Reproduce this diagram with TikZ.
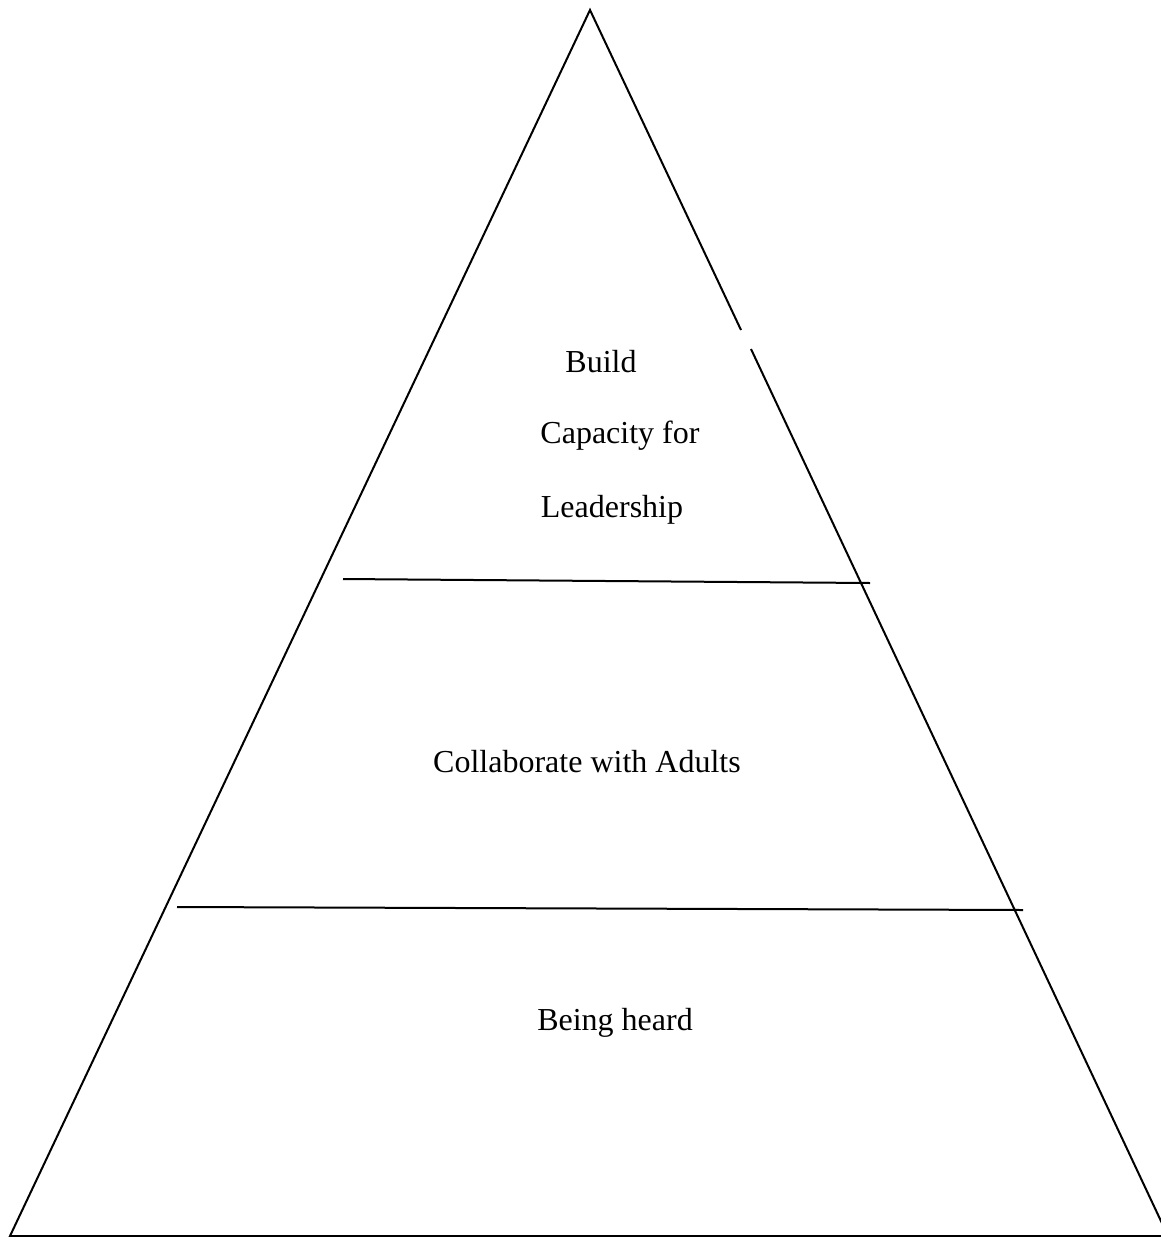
\documentclass[tikz,border=0pt]{standalone}
\usepackage{fontspec}
\setmainfont{Liberation Serif}
\usetikzlibrary{positioning}

\begin{document}
\begin{tikzpicture}[x = 0.5pt, y = -0.5pt, line width = 1pt,
  level/.style = {anchor = base, inner sep = 0pt, font = \fontsize{16}{19}\selectfont}]
\useasboundingbox (0, 0) rectangle (1161, 1237);
\coordinate (top) at (590, 10);
\coordinate (gapa) at (741, 330);
\coordinate (gapb) at (751, 349);
\coordinate (bl) at (10, 1236);
\coordinate (br) at (1168, 1236);
\draw (gapa) -- (top) -- (bl) -- (br) -- (gapb);
\coordinate (upl) at (343, 579);
\coordinate (upr) at (870, 583);
\coordinate (lowl) at (177, 907);
\coordinate (lowr) at (1023, 910);
\draw (upl) -- (upr);
\draw (lowl) -- (lowr);
\node[level] (build) at (601, 372) {Build};
\node[level] (capacity) at (620, 443) {Capacity for};
\node[level] (leader) at (612, 517) {Leadership};
\node[level] (collab) at (587, 772) {Collaborate with Adults};
\node[level] (heard) at (615, 1030) {Being heard};
\end{tikzpicture}
\end{document}
